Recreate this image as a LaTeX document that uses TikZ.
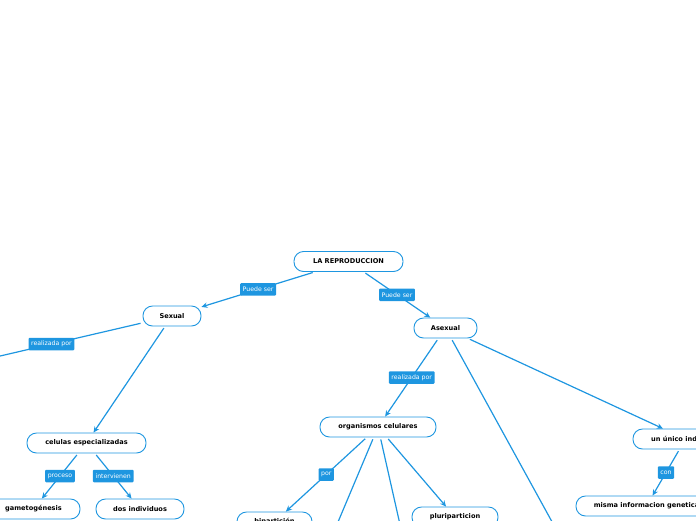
\documentclass[tikz,border=0pt]{standalone}
\usepackage{fontspec}
\usetikzlibrary{arrows.meta}
\newfontfamily\mapfont{DejaVu Sans}
\definecolor{mapblue}{HTML}{1E96E0}

\begin{document}
\begin{tikzpicture}[x=1pt,y=-1pt,
  idea/.style={draw=mapblue,line width=0.9pt,fill=white,rounded corners=9.5pt,
    minimum height=20pt,inner sep=2pt,font=\mapfont\bfseries\fontsize{6.6}{7.5}\selectfont},
  tag/.style={fill=mapblue,text=white,rounded corners=1pt,inner xsep=2.6pt,inner ysep=2pt,
    minimum height=12.5pt,font=\mapfont\fontsize{6.2}{7}\selectfont},
  link/.style={draw=mapblue,line width=1.2pt,shorten <=2pt,-{Stealth[length=6pt,width=5.5pt]}}]
  \useasboundingbox (0,0) rectangle (696,520);
  \clip (0,0) rectangle (696,520);
  \node[idea,minimum width=109pt] (repro) at (348.5,261.5) {LA REPRODUCCION};
  \node[idea,minimum width=58pt] (sexual) at (172,316) {Sexual};
  \node[idea,minimum width=63pt] (asexual) at (445.5,328) {Asexual};
  \node[idea,minimum width=119pt] (celulas) at (86.5,443) {celulas especializadas};
  \node[idea,minimum width=93pt] (gameto) at (33.5,509) {gametogénesis};
  \node[idea,minimum width=88pt] (dos) at (140,509) {dos individuos};
  \node[idea,minimum width=116pt] (organismos) at (378,427) {organismos celulares};
  \node[idea,minimum width=75pt] (bipart) at (274.5,522) {bipartición};
  \node[idea,minimum width=86pt] (pluri) at (455,517) {pluriparticion};
  \node[idea,minimum width=105pt] (unico) at (685.5,439) {un único individuo};
  \node[idea,minimum width=141pt] (misma) at (646.5,506) {misma informacion genetica};
  \coordinate (sexoff) at (-60,370);
  \coordinate (asexoff) at (584,580);
  \coordinate (orgoffa) at (322,560);
  \coordinate (orgoffb) at (408,560);
  \draw[link] (repro) -- node[tag] {Puede ser} (sexual);
  \draw[link] (repro) -- node[tag] {Puede ser} (asexual);
  \draw[link] (sexual) -- node[tag,pos=0.45] {realizada por} (sexoff);
  \draw[link] (sexual) -- (celulas);
  \draw[link] (celulas) -- node[tag] {proceso} (gameto);
  \draw[link] (celulas) -- node[tag] {intervienen} (dos);
  \draw[link] (asexual) -- node[tag] {realizada por} (organismos);
  \draw[link] (asexual) -- (asexoff);
  \draw[link] (asexual) -- (unico);
  \draw[link] (organismos) -- node[tag] {por} (bipart);
  \draw[link] (organismos) -- (orgoffa);
  \draw[link] (organismos) -- (orgoffb);
  \draw[link] (organismos) -- (pluri);
  \draw[link] (unico) -- node[tag] {con} (misma);
\end{tikzpicture}
\end{document}
